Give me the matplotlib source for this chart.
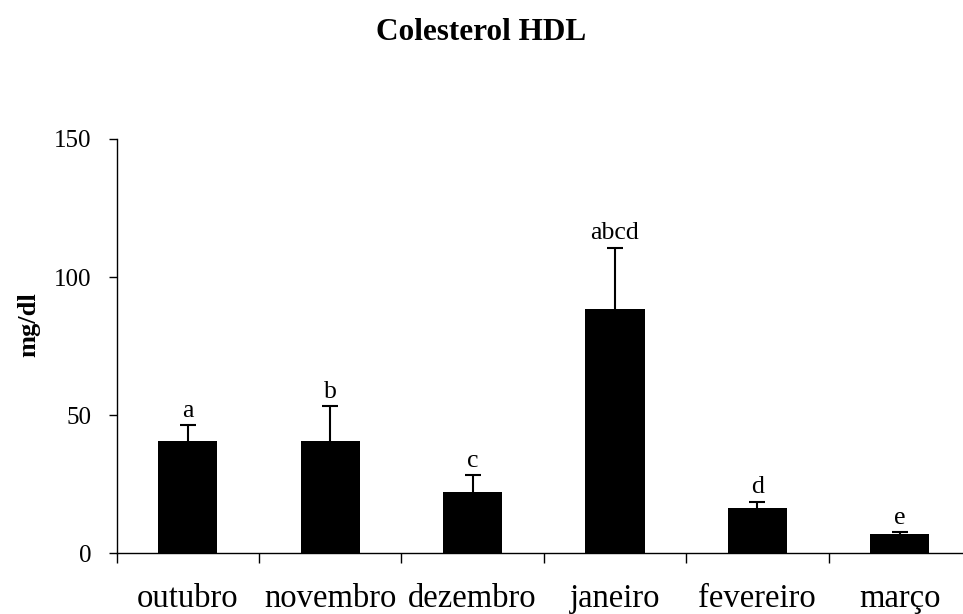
import numpy as np
import matplotlib
matplotlib.use('Agg')
import matplotlib.pyplot as plt

plt.rcParams['font.family'] = ['Liberation Serif', 'DejaVu Serif']

meses = ['outubro', 'novembro', 'dezembro', 'janeiro', 'fevereiro', 'março']
medias = [40.7, 40.7, 22.3, 88.6, 16.5, 7.1]
erros = [5.6, 12.5, 5.9, 22.0, 2.2, 0.6]
letras = ['a', 'b', 'c', 'abcd', 'd', 'e']

fig = plt.figure(figsize=(9.63, 6.14), dpi=100)
ax = fig.add_axes([0.1212, 0.0989, 0.887, 0.6748])

x = np.arange(len(meses))
ax.bar(x, medias, width=0.415, color='black', zorder=2)
eb = ax.errorbar(x, medias, yerr=[np.zeros(len(erros)), erros], fmt='none',
                 ecolor='black', elinewidth=1.5, capsize=5.8, capthick=1.5, zorder=3)
# only the upper cap is wanted
eb[1][0].set_visible(False)

for xi, m, e, l in zip(x, medias, erros, letras):
    ax.annotate(l, (xi, m + e), xytext=(0, 2.5), textcoords='offset points',
                ha='center', va='bottom', fontsize=18.5)

ax.set_xlim(-0.5, len(meses) - 0.5)
ax.set_ylim(0, 150)
ax.set_yticks([0, 50, 100, 150])
ax.tick_params(axis='y', direction='out', length=6, width=1, pad=12, labelsize=18)

# ticks between the categories, labels at the centres
ax.set_xticks(np.arange(-0.5, len(meses) - 0.5, 1))
ax.set_xticklabels([])
ax.set_xticks(x, minor=True)
ax.set_xticklabels(meses, minor=True)
ax.tick_params(axis='x', which='major', direction='out', length=7.2, width=1)
ax.tick_params(axis='x', which='minor', length=0, pad=22, labelsize=23.5)

for s in ['top', 'right']:
    ax.spines[s].set_visible(False)
for s in ['left', 'bottom']:
    ax.spines[s].set_linewidth(1)
ax.spines['bottom'].set_zorder(4)

fig.text(29 / 963, 1 - 325 / 614, 'mg/dl', rotation=90, ha='center', va='center',
         fontsize=19, fontweight='bold')
fig.text(0.5, 0.947, 'Colesterol HDL', ha='center', va='center',
         fontsize=22.5, fontweight='bold')

fig.savefig('out.png', dpi=100)
